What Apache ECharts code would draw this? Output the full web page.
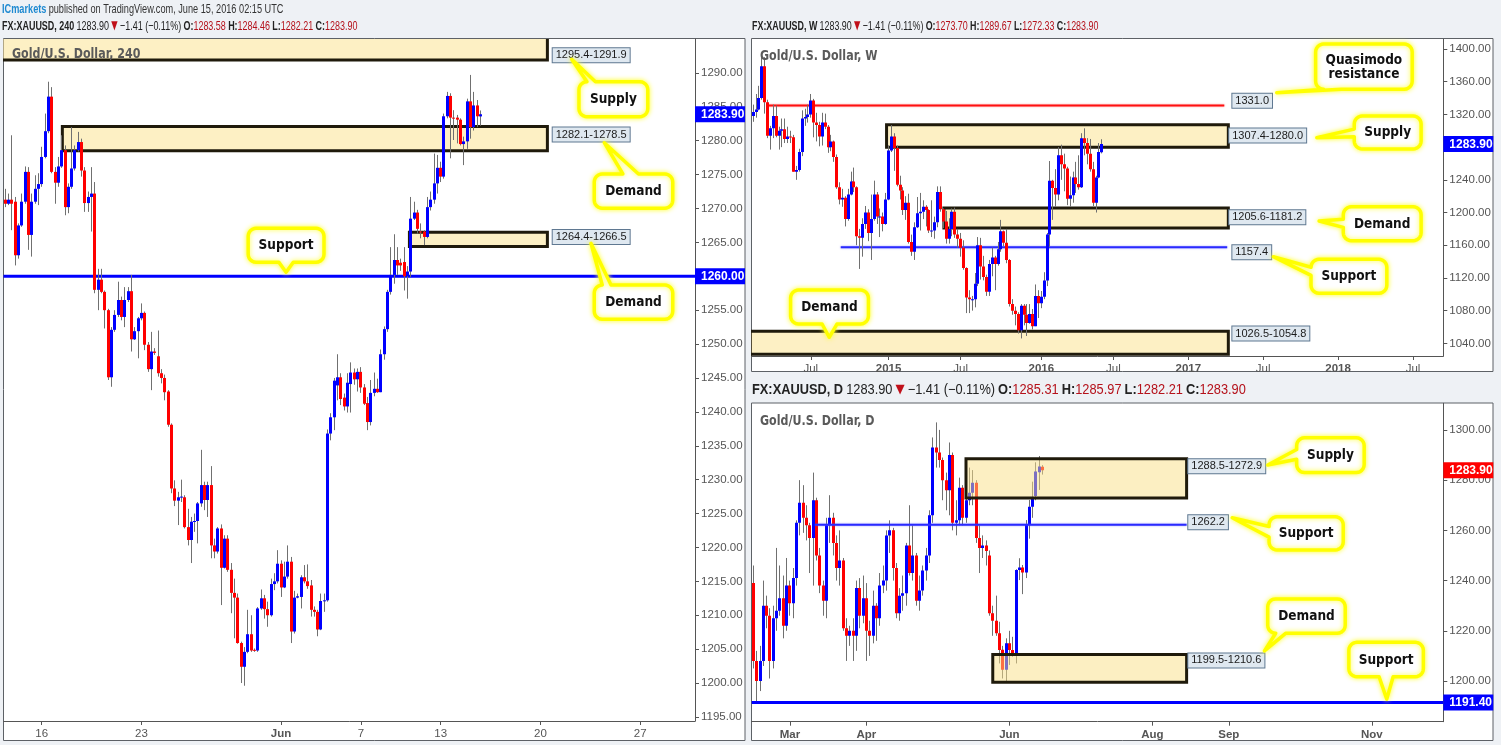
<!DOCTYPE html>
<html>
<head>
<meta charset="utf-8">
<script src="https://cdn.jsdelivr.net/npm/echarts@6/dist/echarts.min.js"></script>
<style>
html,body{margin:0;padding:0;background:#eef1f5;overflow:hidden;}
#chart{width:1501px;height:745px;}
</style>
</head>
<body>
<div id="chart"></div>
<script>
// ================= DATA =================
// ---- 4H (240) panel: [open, high, low, close] ----
const h4Ohlc = [
[1271.3,1272.9,1270.2,1270.7],[1270.7,1272.2,1270.5,1271.3],[1271.3,1280.8,1266.8,1270.7],[1271.0,1271.7,1261.6,1263.1],
[1263.1,1267.8,1262.6,1267.5],[1267.5,1272.2,1267.3,1271.0],[1271.0,1276.2,1270.7,1275.4],[1275.4,1276.1,1263.9,1266.1],
[1266.1,1272.2,1262.9,1271.0],[1271.0,1274.9,1270.7,1272.9],[1272.9,1275.2,1270.5,1273.6],[1273.6,1279.1,1273.2,1277.6],
[1277.6,1284.0,1277.4,1281.4],[1281.4,1288.7,1281.1,1286.5],[1286.5,1287.9,1275.2,1275.4],[1275.4,1276.1,1270.7,1273.8],
[1273.8,1277.6,1273.2,1276.2],[1276.2,1280.8,1276.0,1278.6],[1278.6,1279.3,1269.0,1270.2],[1270.2,1273.7,1269.3,1273.2],
[1273.2,1282.0,1272.9,1275.9],[1275.9,1279.3,1275.6,1278.6],[1278.6,1281.3,1278.4,1279.8],[1279.8,1280.3,1274.7,1275.6],
[1275.6,1276.1,1269.5,1270.8],[1270.8,1272.5,1269.5,1271.7],[1271.7,1276.1,1266.6,1272.2],[1272.2,1273.9,1257.5,1258.0],
[1258.0,1261.1,1255.0,1259.5],[1259.5,1261.1,1257.5,1257.7],[1257.7,1257.9,1252.3,1255.0],[1255.0,1255.2,1244.7,1245.1],
[1245.1,1252.5,1243.7,1252.1],[1252.1,1255.0,1251.8,1254.3],[1254.3,1259.2,1254.0,1256.5],[1256.5,1257.0,1253.5,1254.0],
[1254.0,1258.4,1252.5,1256.5],[1256.5,1258.4,1256.2,1257.8],[1257.8,1260.2,1248.9,1250.7],[1250.7,1252.5,1250.6,1251.9],
[1251.9,1254.0,1247.9,1253.8],[1253.8,1256.0,1253.5,1254.6],[1254.6,1254.8,1249.1,1249.9],[1249.9,1250.3,1245.9,1246.3],
[1246.3,1251.8,1243.2,1248.9],[1248.9,1249.4,1248.4,1248.7],[1248.2,1252.0,1245.2,1245.7],[1245.7,1246.3,1244.2,1245.0],
[1245.0,1245.5,1241.7,1242.9],[1243.0,1243.2,1237.8,1238.1],[1238.1,1238.3,1228.0,1228.7],[1228.7,1229.9,1226.1,1226.9],
[1226.9,1228.2,1223.3,1227.4],[1227.4,1230.0,1226.7,1227.5],[1227.4,1227.7,1222.8,1223.0],[1223.0,1225.7,1220.3,1221.1],
[1221.1,1224.5,1217.7,1223.8],[1223.8,1225.0,1222.3,1223.9],[1223.9,1226.7,1220.6,1226.5],[1226.5,1234.4,1226.0,1229.2],
[1229.2,1229.7,1225.5,1227.0],[1227.0,1229.7,1224.5,1229.2],[1229.2,1232.0,1218.4,1220.3],[1220.3,1221.3,1218.4,1219.4],
[1219.4,1223.0,1219.1,1222.8],[1222.8,1223.4,1211.5,1217.0],[1217.0,1221.8,1216.9,1221.3],[1221.3,1221.8,1216.4,1216.7],
[1216.7,1217.7,1210.3,1213.3],[1213.3,1215.4,1206.6,1212.6],[1212.6,1213.2,1205.8,1205.9],[1205.9,1206.1,1200.0,1202.4],
[1202.4,1205.3,1199.6,1204.6],[1204.6,1210.8,1204.4,1207.2],[1207.2,1210.0,1204.6,1204.8],[1204.9,1205.1,1204.6,1204.8],
[1204.8,1211.2,1204.6,1211.0],[1211.0,1213.8,1210.8,1212.5],[1212.5,1213.0,1209.5,1210.9],[1210.9,1212.0,1208.3,1210.0],
[1210.0,1215.4,1209.8,1214.6],[1214.6,1216.2,1213.7,1215.0],[1215.0,1219.6,1214.7,1217.6],[1217.6,1218.1,1212.7,1214.1],
[1214.1,1217.9,1214.0,1215.7],[1215.7,1220.3,1215.4,1217.9],[1217.9,1218.6,1205.9,1207.6],[1207.6,1213.6,1207.3,1212.6],
[1212.6,1213.2,1212.5,1212.8],[1212.7,1215.9,1211.0,1215.6],[1215.6,1217.4,1214.7,1215.0],[1215.0,1217.5,1213.9,1214.3],
[1214.4,1215.2,1209.8,1210.8],[1210.8,1211.3,1209.8,1210.5],[1210.5,1210.8,1206.9,1207.9],[1207.9,1213.2,1207.8,1212.1],
[1212.1,1213.2,1210.5,1212.2],[1212.2,1237.4,1212.0,1236.8],[1236.8,1239.8,1235.8,1239.2],[1239.2,1245.0,1237.3,1244.6],
[1243.9,1248.5,1241.7,1245.1],[1245.1,1245.7,1241.0,1241.9],[1242.1,1242.7,1240.2,1240.8],[1240.8,1245.7,1239.9,1244.3],
[1244.1,1247.3,1239.9,1245.8],[1245.8,1246.4,1244.0,1244.8],[1244.8,1246.4,1243.0,1245.9],[1245.9,1246.6,1242.8,1243.6],
[1243.6,1244.1,1241.0,1241.2],[1241.3,1242.2,1237.3,1238.5],[1238.5,1244.7,1238.0,1242.8],[1242.8,1245.8,1242.3,1243.4],
[1243.4,1244.9,1242.8,1242.9],[1242.9,1249.2,1242.9,1248.5],[1248.5,1252.6,1247.7,1252.2],[1252.2,1258.0,1251.8,1257.7],
[1257.7,1264.3,1257.3,1260.2],[1260.2,1266.2,1258.9,1262.4],[1262.4,1264.3,1260.2,1261.6],[1262.0,1262.6,1260.8,1261.6],
[1262.1,1264.3,1257.9,1260.0],[1260.0,1261.5,1256.7,1260.7],[1260.7,1271.7,1259.9,1268.5],[1268.5,1271.0,1268.3,1269.4],
[1269.4,1269.8,1266.3,1267.0],[1266.6,1267.8,1265.6,1266.5],[1266.6,1266.8,1264.6,1265.8],[1265.8,1271.7,1265.6,1270.2],
[1270.2,1272.5,1269.7,1271.3],[1271.3,1278.1,1270.7,1273.7],[1273.7,1277.9,1272.2,1276.0],[1276.0,1276.9,1273.9,1274.7],
[1274.7,1284.0,1274.4,1283.6],[1283.6,1287.2,1283.3,1286.6],[1286.6,1287.0,1277.4,1283.4],[1283.4,1284.5,1280.1,1283.3],
[1283.4,1283.8,1279.6,1283.1],[1283.1,1283.3,1279.3,1279.5],[1279.5,1280.6,1276.4,1279.9],[1279.9,1286.2,1278.8,1285.8],
[1285.8,1289.7,1280.3,1282.0],[1282.0,1287.2,1281.5,1285.2],[1285.2,1286.0,1282.0,1283.6],[1283.58,1284.46,1282.21,1283.90]
];
const h4TickIdx = [11,41,83,107,131,161,191];
const h4TickText = ['16','23','Jun','7','13','20','27'];
const h4PriceTicks = [1195,1200,1205,1210,1215,1220,1225,1230,1235,1240,1245,1250,1255,1260,1265,1270,1275,1280,1285,1290];
// zones: [startIdx, endIdx, top, bottom]
const h4Zones = [[-1,163.1,1295.4,1291.9],[17.2,163.1,1282.1,1278.5],[121.6,163.1,1266.5,1264.4]];
// zone tags: [idx, price, text]
const h4ZoneTags = [[164.7,1292.6,'1295.4-1291.9'],[164.7,1280.9,'1282.1-1278.5'],[164.7,1265.8,'1264.4-1266.5']];
const h4Levels = [[-0.5,207.5,1260.0]];
const h4AxisTagPrices = [1283.90,1260.00];
const h4Callouts = [
  {text:'Supply', tip:[170.4,1292.0], box:[172.6,1288.70,193.3,1283.54], side:'top', base:[0.0,0.16]},
  {text:'Demand', tip:[180.2,1279.70], box:[177.2,1275.09,200.8,1270.03], side:'top', base:[0.33,0.58]},
  {text:'Demand', tip:[176.2,1264.86], box:[177.2,1258.71,200.8,1253.65], side:'top', base:[0.0,0.14]},
  {text:'Support', tip:[84.5,1260.59], box:[73.1,1267.08,95.9,1262.06], side:'bottom', base:[0.38,0.62]}
];

// ---- Weekly panel: [open, high, low, close] ----
const wOhlc = [
[1318,1332,1311,1323],[1323,1345,1316,1326],[1326,1355,1325,1340],[1340,1392,1338,1379],[1379,1390,1321,1335],
[1335,1338,1291,1294],[1294,1306,1277,1303],[1303,1332,1291,1318],[1318,1331,1292,1294],[1294,1305,1277,1300],
[1300,1315,1280,1302],[1302,1315,1285,1290],[1290,1305,1285,1293],[1293,1300,1285,1292],[1292,1295,1250,1250],
[1250,1257,1240,1252],[1252,1278,1250,1274],[1274,1325,1269,1315],[1315,1327,1306,1317],[1317,1332,1310,1320],
[1320,1345,1316,1337],[1337,1339,1292,1310],[1310,1322,1287,1307],[1307,1311,1281,1293],[1293,1322,1282,1310],
[1310,1321,1302,1305],[1305,1307,1273,1280],[1280,1295,1275,1287],[1287,1288,1262,1268],[1268,1271,1229,1231],
[1231,1237,1210,1216],[1216,1229,1207,1218],[1218,1220,1183,1192],[1192,1229,1190,1222],[1222,1250,1221,1238],
[1238,1255,1225,1231],[1231,1232,1160,1171],[1171,1180,1131,1169],[1169,1193,1146,1186],[1186,1208,1180,1200],
[1200,1204,1165,1175],[1175,1222,1142,1192],[1192,1239,1190,1222],[1222,1225,1186,1195],[1195,1205,1170,1195],
[1195,1200,1177,1186],[1186,1224,1185,1216],[1216,1282,1215,1276],[1276,1307,1274,1293],[1293,1297,1251,1279],
[1279,1282,1232,1234],[1234,1245,1216,1227],[1227,1231,1197,1203],[1203,1220,1191,1212],[1212,1223,1162,1164],
[1164,1173,1147,1152],[1152,1188,1142,1182],[1182,1219,1181,1199],[1199,1224,1178,1201],[1201,1215,1192,1207],
[1207,1209,1183,1203],[1203,1204,1175,1178],[1178,1215,1170,1178],[1178,1195,1168,1188],[1188,1232,1182,1225],
[1225,1232,1201,1204],[1204,1205,1181,1189],[1189,1202,1162,1168],[1168,1193,1162,1180],[1180,1205,1171,1201],
[1201,1206,1169,1173],[1173,1180,1157,1168],[1168,1175,1146,1157],[1157,1166,1130,1132],[1132,1133,1077,1096],
[1096,1105,1077,1094],[1094,1098,1080,1094],[1094,1126,1084,1113],[1113,1170,1110,1160],[1160,1169,1118,1134],
[1134,1147,1117,1121],[1121,1124,1098,1103],[1103,1142,1098,1137],[1137,1157,1122,1145],[1145,1147,1105,1137],
[1137,1164,1135,1155],[1155,1191,1152,1177],[1177,1178,1159,1163],[1163,1180,1138,1142],[1142,1143,1085,1088],
[1088,1094,1075,1080],[1080,1085,1062,1076],[1076,1078,1052,1056],[1056,1088,1046,1086],[1086,1088,1062,1075],
[1075,1088,1049,1065],[1065,1088,1064,1076],[1076,1082,1057,1061],[1061,1112,1061,1098],[1098,1105,1071,1089],
[1089,1104,1083,1097],[1097,1127,1094,1117],[1117,1175,1110,1173],[1173,1263,1158,1239],[1239,1240,1191,1230],
[1230,1253,1207,1222],[1222,1280,1215,1270],[1270,1283,1240,1259],[1259,1272,1226,1254],[1254,1256,1209,1217],
[1217,1244,1207,1221],[1221,1250,1212,1243],[1243,1262,1224,1235],[1235,1270,1228,1231],[1231,1297,1230,1291],
[1291,1303,1270,1285],[1285,1291,1259,1272],[1272,1290,1250,1253],[1253,1262,1208,1212],[1212,1245,1200,1243],
[1243,1285,1242,1274],[1273.70,1289.67,1272.33,1283.90]
];
const wTickIdx = [20,47,72,100,125,151,177,203,229];
const wTickText = ['Jul','2015','Jul','2016','Jul','2017','Jul','2018','Jul'];
const wPriceTicks = [1040,1080,1120,1160,1200,1240,1280,1320,1360,1400];
const wZones = [[46.3,164.9,1307.4,1280.0],[66.2,164.9,1205.6,1181.2],[-1,164.9,1054.8,1026.5]];
const wZoneTags = [[166.3,1336.7,'1331.0'],[165.2,1294.2,'1307.4-1280.0'],[165.2,1194.3,'1205.6-1181.2'],[166.3,1151.5,'1157.4'],[166.3,1052.0,'1026.5-1054.8']];
const wLevels = [[4.7,163.5,1331.0],[30.4,164.5,1157.4]];
const wAxisTagPrices = [1283.90];
const wCallouts = [
  {text:'Quasimodo\nresistance', tip:[181.7,1346.6], box:[195.2,1406.15,228.7,1350.74], side:'bottom', base:[0.0,0.22]},
  {text:'Supply', tip:[195.6,1291.5], box:[208.6,1318.1,231.8,1277.7], side:'left', base:[0.3,0.75]},
  {text:'Demand', tip:[196.4,1189.6], box:[204.8,1207.1,231.8,1165.5], side:'left', base:[0.25,0.7]},
  {text:'Support', tip:[180.5,1146.0], box:[193.6,1142.8,219.9,1101.2], side:'left', base:[0.0,0.45]},
  {text:'Demand', tip:[26.4,1047.4], box:[13.0,1105.2,40.0,1063.6], side:'bottom', base:[0.38,0.62]}
];

// ---- Daily panel: [open, high, low, close] ----
const dOhlc = [
[1239,1246,1205,1208],[1208,1212,1191.5,1200],[1200,1214,1196,1208],[1208,1240,1206,1230],[1230,1234,1221,1226],
[1226,1229,1201,1208],[1208,1230,1205,1225],[1225,1253,1220,1228],[1228,1246,1226,1233],[1233,1242,1217,1222],
[1222,1249,1220,1238],[1238,1240,1226,1231],[1231,1245,1225,1241],[1241,1264,1238,1263],[1263,1280,1258,1271],
[1271,1278,1259,1265],[1265,1270,1256,1262],[1262,1263,1243,1257],[1257,1283,1238,1272],[1272,1273,1248,1250],
[1250,1253,1235,1238],[1238,1240,1226,1232],[1232,1265,1225,1262],[1262,1274,1255,1265],[1265,1267,1250,1255],
[1255,1258,1240,1245],[1245,1260,1238,1248],[1248,1249,1220,1221],[1221,1225,1208,1218],[1218,1222,1214,1220],
[1220,1225,1208,1218],[1218,1240,1212,1237],[1237,1241,1221,1226],[1226,1242,1223,1233],[1233,1239,1208,1220],
[1220,1224,1210,1218],[1218,1236,1215,1230],[1230,1231,1216,1225],[1225,1243,1222,1238],[1238,1246,1235,1240],
[1240,1260,1236,1258],[1258,1264,1251,1260],[1260,1261,1240,1245],[1245,1247,1225,1227],[1227,1237,1224,1234],
[1234,1242,1228,1235],[1235,1255,1230,1254],[1254,1270,1242,1243],[1243,1262,1240,1250],[1250,1251,1230,1232],
[1232,1242,1228,1236],[1236,1246,1234,1244],[1244,1253,1240,1250],[1250,1268,1247,1266],[1266,1297,1263,1293],
[1293,1303,1285,1291],[1291,1300,1285,1288],[1288,1289,1272,1280],[1280,1283,1268,1276],[1276,1295,1266,1290],
[1290,1291,1260,1263],[1263,1272,1258,1264],[1264,1281,1262,1277],[1277,1278,1262,1265],[1265,1276,1263,1272],
[1272,1285,1270,1275],[1275,1284,1270,1279],[1279,1280,1255,1257],[1257,1262,1243,1253],[1253,1258,1249,1254],
[1254,1256,1246,1251.8],[1250,1252,1226,1227],[1227,1230,1218,1224],[1224,1234,1218,1219],[1219,1223.6,1207,1212.4],
[1212.5,1214,1201,1204.5],[1204.5,1217,1200,1215],[1215,1220,1206.4,1212.4],[1212.4,1217.6,1209.7,1211],[1211,1244.5,1207,1244.2],
[1244.2,1248.9,1240.2,1245.2],[1245.2,1246.2,1234.6,1243.2],[1243.2,1264.1,1241,1262.1],[1262.1,1272.1,1256.7,1269.4],[1269.4,1279.4,1265,1272.8],
[1273.7,1287.1,1272,1283.4],[1283.1,1289.6,1276.1,1285.4],[1285.31,1285.97,1282.21,1283.90]
];
const dTickIdx = [11,34,77,120,143,186];
const dTickText = ['Mar','Apr','Jun','Aug','Sep','Nov'];
const dPriceTicks = [1200,1220,1240,1260,1280,1300];
const dZones = [[63.95,130.3,1288.5,1272.9],[72.0,130.3,1210.6,1199.5]];
const dZoneTags = [[130.8,1285.55,'1288.5-1272.9'],[130.8,1263.2,'1262.2'],[130.8,1208.2,'1199.5-1210.6']];
const dLevels = [[18.5,130.3,1262.2],[-0.5,207.5,1191.4]];
const dAxisTagPrices = [1283.90,1191.40];
const dCallouts = [
  {text:'Supply', tip:[154.7,1286.0], box:[163.4,1296.9,183.7,1283.0], side:'left', base:[0.2,0.72]},
  {text:'Support', tip:[144.0,1265.0], box:[155.1,1265.4,177.4,1252.2], side:'left', base:[0.1,0.72]},
  {text:'Demand', tip:[153.7,1212.0], box:[154.7,1232.7,178.0,1219.0], side:'bottom', base:[0.0,0.16]},
  {text:'Support', tip:[190.5,1192.8], box:[179.1,1215.4,201.5,1201.7], side:'bottom', base:[0.38,0.62]}
];

// ================= RENDERING =================
const FONT = '"Liberation Sans", Arial, sans-serif';
const FONT_N = '"Liberation Sans", Arial, sans-serif';
const FONT_B = '"DejaVu Sans Condensed", "DejaVu Sans", sans-serif';
const UP = '#0000ff', DOWN = '#ff0000', WICK = '#707070';

function xy(api){
  const bw = api.size([1,0])[0];
  const x0 = api.coord([0, 1000])[0];
  return { X: i => x0 + i*bw, Y: p => api.coord([0, p])[1] };
}

function customSeries(g, items, draw, z, clip){
  return {
    type:'custom', xAxisIndex:g, yAxisIndex:g, z:z, clip:clip, silent:true, animation:false,
    data: items.map((_, i) => [i, 0]),
    renderItem: (params, api) => draw(items[params.dataIndex], params, api)
  };
}

function candleSeries(g, rows, bodyW, z){
  return {
    type:'custom', xAxisIndex:g, yAxisIndex:g, z:z, clip:true, silent:true, animation:false,
    data: rows.map((r, i) => [i, r[0], r[1], r[2], r[3]]),
    encode:{x:0, y:[1,2,3,4]},
    renderItem:(params, api) => {
      const i = api.value(0), o = api.value(1), h = api.value(2), l = api.value(3), c = api.value(4);
      const po = api.coord([i, o]), pc = api.coord([i, c]), ph = api.coord([i, h]), pl = api.coord([i, l]);
      const left = Math.round(po[0] - bodyW/2);
      const top = Math.min(po[1], pc[1]);
      const hgt = Math.max(Math.abs(pc[1] - po[1]), 1);
      const wx = left + Math.floor(bodyW/2) + 0.5;
      return {type:'group', children:[
        {type:'line', shape:{x1:wx, y1:ph[1], x2:wx, y2:pl[1]}, style:{stroke:WICK, lineWidth:1}},
        {type:'rect', shape:{x:left, y:top, width:bodyW, height:hgt}, style:{fill: c >= o ? UP : DOWN}}
      ]};
    }
  };
}

function zoneDraw(fill){
  return (it, params, api) => {
    const {X, Y} = xy(api);
    const x1 = X(it[0]), x2 = X(it[1]), y1 = Y(it[2]), y2 = Y(it[3]);
    return {type:'rect', shape:{x:x1, y:y1, width:x2-x1, height:y2-y1},
      style:{fill:fill, stroke:'#1f1a0b', lineWidth:3}};
  };
}
function levelDraw(styles){
  return (it, params, api) => {
    const {X, Y} = xy(api);
    const s = styles[params.dataIndex];
    const y = Y(it[2]);
    return {type:'line', shape:{x1:X(it[0]), y1:y, x2:X(it[1]), y2:y},
      style:{stroke:s.color, lineWidth:s.width, shadowBlur:s.glow||0, shadowColor:s.glowColor||'transparent'}};
  };
}
function tagDraw(it, params, api){
  const {X, Y} = xy(api);
  return {type:'text', x:X(it[0]), y:Y(it[1]),
    style:{text:it[2], fill:'#1b1b1b', font:'11px ' + FONT, backgroundColor:'#dfe8f0',
      borderColor:'#5f7891', borderWidth:1, padding:[2,3,1,3], align:'left', verticalAlign:'middle'}};
}
function axisTagDraw(colors, width){
  return (price, params, api) => {
    const cs = params.coordSys;
    const y = api.coord([0, price])[1];
    const x = cs.x + cs.width;
    return {type:'group', children:[
      {type:'rect', shape:{x:x, y:y-8, width:width, height:16}, style:{fill:colors[params.dataIndex]}},
      {type:'text', x:x+6, y:y+0.5, style:{text:price.toFixed(2), fill:'#ffffff', font:'bold 12px ' + FONT, align:'left', verticalAlign:'middle'}}
    ]};
  };
}
function arcPts(cx, cy, r, a0, a1){
  const pts = [];
  for (let k = 0; k <= 6; k++){
    const a = (a0 + (a1-a0)*k/6) * Math.PI/180;
    pts.push([cx + r*Math.cos(a), cy + r*Math.sin(a)]);
  }
  return pts;
}
function calloutDraw(it, params, api){
  const {X, Y} = xy(api);
  const x1 = X(it.box[0]), x2 = X(it.box[2]), y1 = Y(it.box[1]), y2 = Y(it.box[3]);
  const tx = X(it.tip[0]), ty = Y(it.tip[1]);
  const r = 8;
  const hx = (f) => (x1 + r) + f*((x2 - r) - (x1 + r));
  const vy = (f) => (y1 + r) + f*((y2 - r) - (y1 + r));
  let pts = [];
  pts.push([x1 + r, y1]);
  if (it.side === 'top') pts.push([hx(it.base[0]), y1], [tx, ty], [hx(it.base[1]), y1]);
  pts.push([x2 - r, y1]);
  pts = pts.concat(arcPts(x2 - r, y1 + r, r, -90, 0));
  if (it.side === 'right') pts.push([x2, vy(it.base[0])], [tx, ty], [x2, vy(it.base[1])]);
  pts = pts.concat(arcPts(x2 - r, y2 - r, r, 0, 90));
  if (it.side === 'bottom') pts.push([hx(it.base[1]), y2], [tx, ty], [hx(it.base[0]), y2]);
  pts = pts.concat(arcPts(x1 + r, y2 - r, r, 90, 180));
  if (it.side === 'left') pts.push([x1, vy(it.base[1])], [tx, ty], [x1, vy(it.base[0])]);
  pts = pts.concat(arcPts(x1 + r, y1 + r, r, 180, 270));
  return {type:'group', children:[
    {type:'polygon', shape:{points:pts}, style:{fill:'#ffffff', stroke:'#ffff00', lineWidth:3.5,
      shadowBlur:5, shadowColor:'rgba(255,255,60,0.95)', lineJoin:'round'}},
    {type:'text', x:(x1+x2)/2, y:(y1+y2)/2 + 0.5, style:{text:it.text, fill:'#111111',
      font:'bold 13.5px ' + FONT_B, align:'center', verticalAlign:'middle', lineHeight:14}}
  ]};
}

function xAxisCfg(g, n, idx, txt, bold){
  const map = {};
  idx.forEach((k, j) => { map[k] = txt[j]; });
  const cats = Array.from({length:n}, (_, i) => 'c' + i);
  const show = (i) => map[i] !== undefined;
  return {
    type:'category', gridIndex:g, data:cats, boundaryGap:true,
    axisLine:{show:true, lineStyle:{color:'#555', width:1}},
    axisTick:{show:true, alignWithLabel:true, length:4, interval:(i) => show(i), lineStyle:{color:'#555'}},
    axisLabel:{show:true, interval:(i) => show(i), margin:7, color:'#555', fontSize:11.5, fontFamily:FONT,
      formatter:(v, i) => { const t = map[i] || ''; return bold(t) ? '{b|' + t + '}' : t; },
      rich:{b:{fontWeight:'bold', color:'#555', fontSize:11.5, fontFamily:FONT}}},
    splitLine:{show:false}, axisPointer:{show:false}
  };
}
function yAxisCfg(g, min, max, ticks){
  return {
    type:'value', gridIndex:g, position:'right', min:min, max:max, scale:true,
    axisLine:{show:true, lineStyle:{color:'#555', width:1}},
    axisTick:{show:true, length:4, customValues:ticks, lineStyle:{color:'#555'}},
    axisLabel:{show:true, customValues:ticks, margin:6, color:'#555', fontSize:11.5, fontFamily:FONT,
      formatter:(v) => Number(v).toFixed(2)},
    splitLine:{show:false}
  };
}

const isMonth = t => /^[A-Za-z]+$/.test(t);
const isYear = t => /^\d{4}$/.test(t);

function header(x, y, label, o, h, l, c, size, sx){
  return {type:'text', z:50, silent:true, x:x, y:y, scaleX:sx, style:{verticalAlign:'middle', align:'left',
    text:'{k|' + label + '} {n|1283.90} {r|▼} {n|−1.41 (−0.11%)} {k|O:}{v|' + o + '} {k|H:}{v|' + h + '} {k|L:}{v|' + l + '} {k|C:}{v|' + c + '}',
    rich:{k:{fill:'#222', fontSize:size, fontFamily:FONT_N, fontWeight:'bold'}, n:{fill:'#222', fontSize:size, fontFamily:FONT_N},
      r:{fill:'#c0101a', fontSize:size-1, fontFamily:'"DejaVu Sans", sans-serif'}, v:{fill:'#b5121b', fontSize:size, fontFamily:FONT_N}}}};
}

const option = {
  backgroundColor:'#eef1f5',
  animation:false,
  grid:[
    {left:3.5, top:39, width:691.5, height:682},
    {left:751.7, top:39.3, width:691.6, height:316.7},
    {left:751.7, top:403.3, width:691.6, height:318.4}
  ],
  xAxis:[
    xAxisCfg(0, 208, h4TickIdx, h4TickText, isMonth),
    xAxisCfg(1, 240, wTickIdx, wTickText, isYear),
    xAxisCfg(2, 208, dTickIdx, dTickText, () => true)
  ],
  yAxis:[
    yAxisCfg(0, 1194.4, 1295.0, h4PriceTicks),
    yAxisCfg(1, 1024.5, 1411.9, wPriceTicks),
    yAxisCfg(2, 1183.8, 1310.6, dPriceTicks)
  ],
  graphic:[
    {type:'rect', z:-10, silent:true, shape:{x:3.5, y:38.5, width:741.5, height:702}, style:{fill:'#ffffff', stroke:'#5d6166', lineWidth:1}},
    {type:'rect', z:-10, silent:true, shape:{x:751.5, y:38.5, width:741.5, height:333}, style:{fill:'#ffffff', stroke:'#5d6166', lineWidth:1}},
    {type:'rect', z:-10, silent:true, shape:{x:751.5, y:403, width:741.5, height:337.5}, style:{fill:'#ffffff', stroke:'#5d6166', lineWidth:1}},
    {type:'text', z:50, silent:true, x:2, y:9, scaleX:0.68, style:{verticalAlign:'middle', align:'left',
      text:'{a|ICmarkets} {b|published on TradingView.com, June 15, 2016 02:15 UTC}',
      rich:{a:{fill:'#1f8ad1', fontSize:13.5, fontFamily:FONT_N, fontWeight:'bold'}, b:{fill:'#333', fontSize:13.5, fontFamily:FONT_N}}}},
    header(2, 26, 'FX:XAUUSD, 240', '1283.58', '1284.46', '1282.21', '1283.90', 13, 0.69),
    header(752, 26, 'FX:XAUUSD, W', '1273.70', '1289.67', '1272.33', '1283.90', 13, 0.685),
    header(752, 390, 'FX:XAUUSD, D', '1285.31', '1285.97', '1282.21', '1283.90', 14, 0.915),
    {type:'text', z:50, silent:true, x:12, y:54, scaleX:0.88, style:{text:'Gold/U.S. Dollar, 240', fill:'#5a5a5a', font:'bold 14px ' + FONT_B, verticalAlign:'middle'}},
    {type:'text', z:50, silent:true, x:760, y:56, scaleX:0.88, style:{text:'Gold/U.S. Dollar, W', fill:'#5a5a5a', font:'bold 14px ' + FONT_B, verticalAlign:'middle'}},
    {type:'text', z:50, silent:true, x:760, y:421, scaleX:0.88, style:{text:'Gold/U.S. Dollar, D', fill:'#5a5a5a', font:'bold 14px ' + FONT_B, verticalAlign:'middle'}}
  ],
  series:[
    // 4H
    customSeries(0, h4Zones, zoneDraw('#fdf0c4'), 1, true),
    customSeries(0, h4Levels, levelDraw([{color:'#0000ff', width:3}]), 2, true),
    candleSeries(0, h4Ohlc, 3, 3),
    customSeries(0, h4ZoneTags, tagDraw, 10, false),
    customSeries(0, h4Callouts, calloutDraw, 11, false),
    customSeries(0, h4AxisTagPrices, axisTagDraw(['#0000ff','#0000ff'], 50), 12, false),
    // Weekly
    customSeries(1, wZones, zoneDraw('#fdf0c4'), 1, true),
    customSeries(1, wLevels, levelDraw([{color:'#ff1010', width:2, glow:2, glowColor:'rgba(255,80,80,0.6)'},{color:'#2a2aff', width:2, glow:2, glowColor:'rgba(80,80,255,0.6)'}]), 2, true),
    candleSeries(1, wOhlc, 3, 3),
    customSeries(1, wZoneTags, tagDraw, 10, false),
    customSeries(1, wCallouts, calloutDraw, 11, false),
    customSeries(1, wAxisTagPrices, axisTagDraw(['#0000ff'], 50), 12, false),
    // Daily
    candleSeries(2, dOhlc, 3, 3),
    customSeries(2, dZones, zoneDraw('rgba(249,223,133,0.5)'), 6, true),
    customSeries(2, dLevels, levelDraw([{color:'#2a2aff', width:2, glow:2, glowColor:'rgba(80,80,255,0.6)'},{color:'#0000ff', width:3}]), 7, true),
    customSeries(2, dZoneTags, tagDraw, 10, false),
    customSeries(2, dCallouts, calloutDraw, 11, false),
    customSeries(2, dAxisTagPrices, axisTagDraw(['#ff0000','#0000ff'], 50), 12, false)
  ]
};

const chart = echarts.init(document.getElementById('chart'), null, {renderer:'canvas', width:1501, height:745});
chart.setOption(option);
</script>
</body>
</html>
